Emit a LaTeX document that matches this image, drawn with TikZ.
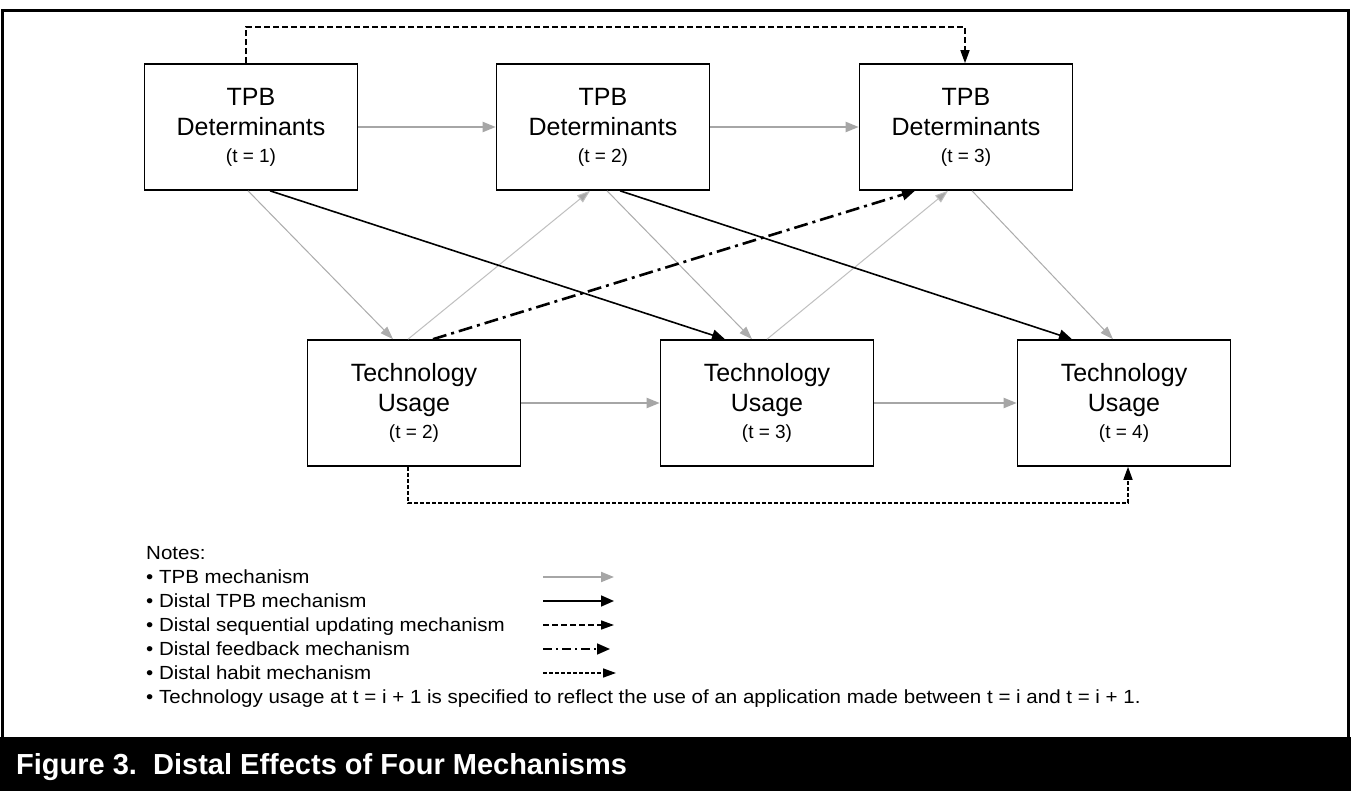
\documentclass[tikz,border=0pt]{standalone}
\usepackage{fontspec}
\setmainfont{Liberation Sans}
\newfontfamily\legfont{Liberation Sans}[FakeStretch=1.08]
\usetikzlibrary{arrows.meta,calc}
\begin{document}
\begin{tikzpicture}[x=1pt,y=-1pt,
  box/.style={draw, line width=1.6pt, fill=white, minimum width=213pt, minimum height=126pt,
    inner sep=0pt, align=center, font=\fontsize{25}{30}\selectfont},
  tpbarrow/.style={draw=gray!70, line width=2pt, -{Triangle[length=13pt,width=10pt]}},
  tpbdiag/.style={draw=gray!65, line width=1pt, -{Triangle[length=13pt,width=9pt]}},
  tpbup/.style={draw=gray!50, line width=1pt, -{Triangle[length=13pt,width=9pt,fill=gray!70]}},
  distal/.style={draw=black, line width=1.6pt, -{Triangle[length=13pt,width=11pt]}},
  feedback/.style={draw=black, line width=2.6pt, dash pattern=on 14pt off 5pt on 3pt off 5pt, -{Triangle[length=13pt,width=11pt]}},
  seqline/.style={draw=black, line width=1.6pt, dash pattern=on 6pt off 3pt, -{Triangle[length=13pt,width=9pt]}},
  habitline/.style={draw=black, line width=1.6pt, dash pattern=on 4pt off 2pt, -{Triangle[length=13pt,width=9pt]}},
  legtext/.style={anchor=base west, inner sep=0pt, font=\legfont\fontsize{19}{24}\selectfont},
]
\useasboundingbox (0,0) rectangle (1351,791);
\fill[white] (0,0) rectangle (1351,791);
% frame and caption band
\draw[line width=3pt] (2.5,11) rectangle (1348.5,738);
\fill[black] (0,737) rectangle (1351,791);
\node[anchor=base west, inner sep=0pt, text=white, font=\bfseries\fontsize{29}{33}\selectfont] (title) at (16,774) {Figure 3.\ \ Distal Effects of Four Mechanisms};

% boxes
\node[box] (t1) at (251,127) {TPB\\Determinants\\[-3pt]{\fontsize{19}{22}\selectfont (t = 1)}};
\node[box] (t2) at (603,127) {TPB\\Determinants\\[-3pt]{\fontsize{19}{22}\selectfont (t = 2)}};
\node[box] (t3) at (966,127) {TPB\\Determinants\\[-3pt]{\fontsize{19}{22}\selectfont (t = 3)}};
\node[box] (u2) at (414,403) {Technology\\Usage\\[-3pt]{\fontsize{19}{22}\selectfont (t = 2)}};
\node[box] (u3) at (767,403) {Technology\\Usage\\[-3pt]{\fontsize{19}{22}\selectfont (t = 3)}};
\node[box] (u4) at (1124,403) {Technology\\Usage\\[-3pt]{\fontsize{19}{22}\selectfont (t = 4)}};

% TPB mechanism (horizontal)
\draw[tpbarrow] (t1.east) -- (t2.west);
\draw[tpbarrow] (t2.east) -- (t3.west);
\draw[tpbarrow] (u2.east) -- (u3.west);
\draw[tpbarrow] (u3.east) -- (u4.west);
% TPB mechanism (diagonal down)
\draw[tpbdiag] ([xshift=-3pt]t1.south) -- ([xshift=-21pt]u2.north);
\draw[tpbdiag] ([xshift=4pt]t2.south) -- ([xshift=-15pt]u3.north);
\draw[tpbdiag] ([xshift=6pt]t3.south) -- ([xshift=-11pt]u4.north);
% TPB mechanism (diagonal up)
\draw[tpbup] ([xshift=-6pt]u2.north) -- ([xshift=-13pt]t2.south);
\draw[tpbup] ([xshift=0pt]u3.north) -- ([xshift=-18pt]t3.south);
% distal TPB
\draw[distal] ([xshift=19pt]t1.south) -- ([xshift=-42pt]u3.north);
\draw[distal] ([xshift=17pt]t2.south) -- ([xshift=-52pt]u4.north);
% distal feedback
\draw[feedback] ([xshift=19pt]u2.north) -- ([xshift=-51pt]t3.south);
% distal sequential updating
\draw[seqline] ([xshift=-5pt]t1.north) -- ++(0,-36) -| ([xshift=-1pt]t3.north);
% distal habit
\draw[habitline] ([xshift=-6pt]u2.south) -- ++(0,36) -| ([xshift=4pt]u4.south);

% legend
\node[legtext] (n0) at (146,559) {Notes:};
\node[legtext] (n1) at (146,583) {• TPB mechanism};
\node[legtext] (n2) at (146,607) {• Distal TPB mechanism};
\node[legtext] (n3) at (146,631) {• Distal sequential updating mechanism};
\node[legtext] (n4) at (146,655) {• Distal feedback mechanism};
\node[legtext] (n5) at (146,679) {• Distal habit mechanism};
\node[legtext] (n6) at (146,703) {• Technology usage at t = i + 1 is specified to reflect the use of an application made between t = i and t = i + 1.};
\coordinate (a1) at (543,577); \coordinate (b1) at (614,577);
\coordinate (a2) at (543,601); \coordinate (b2) at (614,601);
\coordinate (a3) at (543,625); \coordinate (b3) at (614,625);
\coordinate (a4) at (543,649); \coordinate (b4) at (610,649);
\coordinate (a5) at (543,673); \coordinate (b5) at (616,673);
\draw[tpbarrow] (a1) -- (b1);
\draw[distal] (a2) -- (b2);
\draw[seqline] (a3) -- (b3);
\draw[feedback, line width=1.6pt, dash pattern=on 9pt off 4pt on 2pt off 4pt] (a4) -- (b4);
\draw[habitline] (a5) -- (b5);
\end{tikzpicture}
\end{document}
